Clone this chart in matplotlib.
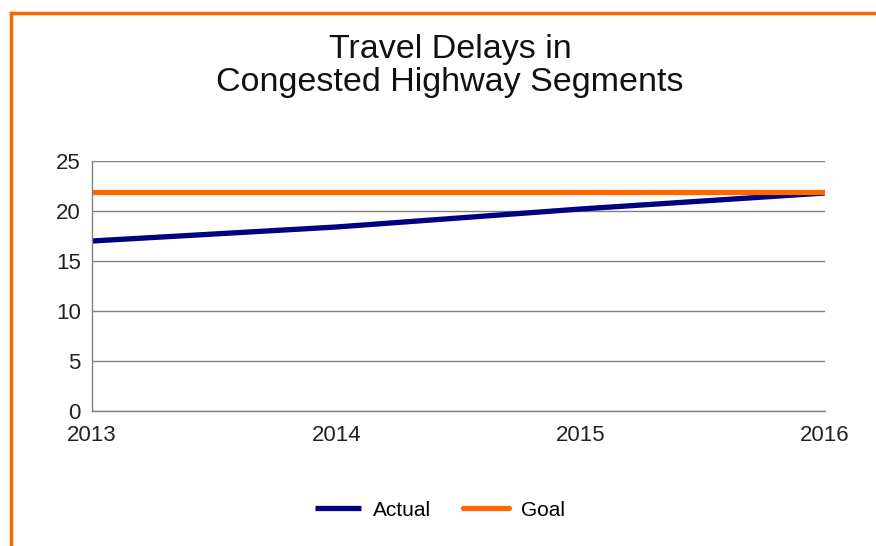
import matplotlib
matplotlib.use('Agg')
import matplotlib.pyplot as plt
from matplotlib.lines import Line2D

years = ['2013', '2014', '2015', '2016']
actual = [17.0, 18.4, 20.2, 21.8]
goal = [21.9, 21.9, 21.9, 21.9]
y_ticks = [0, 5, 10, 15, 20, 25]

W, H = 876, 546
fig = plt.figure(figsize=(W / 100, H / 100), dpi=100)
ax = fig.add_axes([92 / W, 1 - 411 / H, (825 - 92) / W, (411 - 161) / H])

tick_font = 'Liberation Sans'
x = list(range(len(years)))
ax.plot(x, actual, color='#000080', linewidth=3.8, solid_capstyle='butt', label='Actual')
ax.plot(x, goal, color='#FF6600', linewidth=3.8, solid_capstyle='round', label='Goal')

ax.set_xlim(0, len(years) - 1)
ax.set_ylim(0, 25)
ax.set_yticks(y_ticks)
ax.set_xticks(x)
ax.set_xticklabels(years)
ax.yaxis.grid(True, color='#808080', linewidth=1)
ax.set_axisbelow(True)
for s in ['top', 'right']:
    ax.spines[s].set_visible(False)
for s in ['left', 'bottom']:
    ax.spines[s].set_color('#808080')
    ax.spines[s].set_linewidth(1)
ax.tick_params(length=0, pad=8, labelsize=16, colors='#222222')
for lab in ax.get_xticklabels() + ax.get_yticklabels():
    lab.set_family(tick_font)
ax.tick_params(axis='x', pad=10)

fig.text(450 / W, 1 - 66 / H, 'Travel Delays in\nCongested Highway Segments',
         ha='center', va='center', fontsize=24.5, family='Liberation Sans',
         linespacing=1.1, color='#111111')

leg = fig.legend(loc='center', bbox_to_anchor=(440 / W, 1 - 510 / H), ncol=2,
                 frameon=False, handlelength=2.2, handletextpad=0.6, columnspacing=1.5,
                 prop={'family': tick_font, 'size': 15})

# orange frame along the top and left
fig.add_artist(Line2D([11 / W, 1.0], [1 - 13 / H, 1 - 13 / H], color='#FF6600', linewidth=2.5))
fig.add_artist(Line2D([11 / W, 11 / W], [0.0, 1 - 13 / H], color='#FF6600', linewidth=2.5))

fig.savefig('out.png', dpi=100)
